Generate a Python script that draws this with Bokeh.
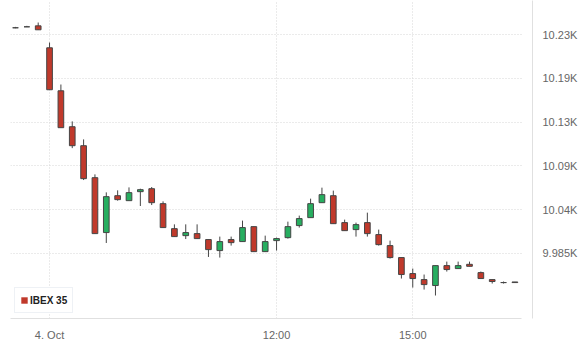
from bokeh.plotting import figure
from bokeh.models import FixedTicker, Range1d, Legend, LegendItem, ColumnDataSource
from bokeh.embed import file_html
from bokeh.resources import INLINE

# ---- data ----
series_name = "IBEX 35"
open_ = [10243.0, 10244.1, 10245.2, 10220.1, 10170.9, 10129.8, 10108.1, 10071.5, 10008.7, 10050.9,
         10045.2, 10055.5, 10058.9, 10041.8, 10013.2, 10005.2, 10007.5, 10000.7, 9988.1, 10000.7,
         9998.4, 10015.5, 9986.9, 9999.5, 10002.9, 10016.7, 10025.8, 10042.9, 10050.9, 10020.1,
         10012.1, 10020.1, 10006.4, 9993.8, 9980.1, 9961.8, 9954.9, 9948.1, 9970.9, 9967.5,
         9972.4, 9962.9, 9954.9, 9951.5, 9952.2]
high = [10244.0, 10245.2, 10249.0, 10226.1, 10178.1, 10135.9, 10115.3, 10075.3, 10054.7, 10057.0,
        10060.4, 10058.9, 10060.8, 10044.4, 10018.1, 10018.1, 10018.1, 10000.7, 10004.1, 10004.1,
        10022.4, 10015.5, 10005.2, 10002.9, 10021.2, 10028.1, 10047.5, 10060.1, 10056.7, 10023.5,
        10020.1, 10031.5, 10012.1, 9999.5, 9980.1, 9967.5, 9960.7, 9970.9, 9975.5, 9975.5,
        9975.5, 9964.1, 9954.9, 9952.7, 9952.2]
low = [10242.5, 10244.0, 10240.7, 10172.1, 10128.7, 10105.3, 10068.8, 10007.5, 9996.8, 10045.2,
       10045.2, 10039.1, 10040.2, 10014.4, 10004.1, 10001.3, 10001.8, 9980.8, 9980.1, 9993.8,
       9998.4, 9986.9, 9986.9, 9988.1, 10001.8, 10014.4, 10025.8, 10042.9, 10018.9, 10010.9,
       10004.1, 10004.1, 9993.8, 9979.0, 9956.1, 9945.8, 9943.5, 9936.7, 9964.1, 9967.5,
       9970.1, 9956.1, 9950.4, 9950.4, 9951.5]
close = [10243.0, 10244.1, 10240.7, 10172.1, 10128.7, 10108.1, 10070.4, 10007.5, 10049.8, 10046.4,
         10054.4, 10057.8, 10042.9, 10014.4, 10004.1, 10008.7, 10001.8, 9989.2, 9998.4, 9997.2,
         10014.4, 9986.9, 9998.4, 10001.8, 10015.5, 10024.7, 10041.8, 10052.1, 10018.9, 10010.9,
         10017.8, 10007.5, 9994.9, 9980.1, 9960.7, 9956.1, 9949.2, 9970.9, 9966.4, 9970.9,
         9970.1, 9956.1, 9952.7, 9951.5, 9951.5]

x_tick_pos = [3, 23, 35]
x_tick_labels = ["4. Oct", "12:00", "15:00"]
y_tick_vals = [9985, 10035, 10085, 10135, 10185, 10235]
y_tick_labels = ["9.985K", "10.04K", "10.09K", "10.13K", "10.19K", "10.23K"]

UP = "#27ae60"
DOWN = "#c0392b"
EDGE = "#454545"
FONT = "Liberation Sans"

idx = list(range(len(open_)))
src = ColumnDataSource(dict(
    x=idx, open=open_, high=high, low=low, close=close,
    top=[max(o, c) for o, c in zip(open_, close)],
    bottom=[min(o, c) for o, c in zip(open_, close)],
    color=[UP if c >= o else DOWN for o, c in zip(open_, close)],
))

X0, X1, XEND = -0.44, 45.55, 44.59
p = figure(width=580, height=350, output_backend="svg", toolbar_location=None,
           x_range=Range1d(X0, X1), y_range=Range1d(9910.4, 10274.2),
           min_border_left=10, min_border_right=46, min_border_top=0, min_border_bottom=32,
           y_axis_location="right")
p.outline_line_color = None
p.background_fill_color = "white"
p.border_fill_color = "white"

p.segment(x0="x", y0="low", x1="x", y1="high", line_color=EDGE, line_width=1, source=src)
p.vbar(x="x", width=0.5, top="top", bottom="bottom", fill_color="color",
       line_color=EDGE, line_width=1, source=src)

# zero-size swatch renderer used only for the legend key
swatch = p.vbar(x=idx[:1], width=0, top=close[:1], bottom=close[:1], fill_color=DOWN, line_color=None)

# axes
xa = p.xaxis[0]
xa.ticker = FixedTicker(ticks=x_tick_pos)
xa.major_label_overrides = {k: v for k, v in zip(x_tick_pos, x_tick_labels)}
xa.major_tick_line_color = None
xa.minor_tick_line_color = None
xa.axis_line_color = "#e0e0e0"
xa.bounds = (X0, XEND)
xa.major_label_text_font = FONT
xa.major_label_text_font_size = "11px"
xa.major_label_text_color = "#666666"
xa.major_label_standoff = 4

ya = p.yaxis[0]
ya.ticker = FixedTicker(ticks=y_tick_vals)
ya.major_label_overrides = {k: v for k, v in zip(y_tick_vals, y_tick_labels)}
ya.major_tick_line_color = None
ya.minor_tick_line_color = None
ya.axis_line_color = "#e0e0e0"
ya.major_label_text_font = FONT
ya.major_label_text_font_size = "11px"
ya.major_label_text_color = "#666666"
ya.major_label_standoff = 4

# grids
xg = p.xgrid[0]
xg.ticker = FixedTicker(ticks=x_tick_pos)
xg.grid_line_color = "#d6d6d6"
xg.grid_line_dash = "1 2"
yg = p.ygrid[0]
yg.ticker = FixedTicker(ticks=y_tick_vals)
yg.grid_line_color = "#d6d6d6"
yg.grid_line_dash = "1 2"
if "cross_bounds" in yg.properties():
    yg.cross_bounds = (X0, XEND)
else:
    yg.visible = False
    p.segment(x0=[X0] * len(y_tick_vals), x1=[XEND] * len(y_tick_vals), y0=y_tick_vals, y1=y_tick_vals,
              line_color="#d6d6d6", line_dash="1 2", line_width=1, level="underlay")

legend = Legend(items=[LegendItem(label=series_name, renderers=[swatch])],
                location=(4, 5), padding=5, margin=0, spacing=0,
                glyph_width=8, glyph_height=8, label_standoff=2, label_height=14,
                label_text_font=FONT, label_text_font_size="10px", label_text_font_style="bold",
                label_text_color="#222222", border_line_color="#dde3ec", border_line_width=1,
                background_fill_color="white", background_fill_alpha=1)
p.add_layout(legend)

open("out.html", "w").write(file_html(p, INLINE))
